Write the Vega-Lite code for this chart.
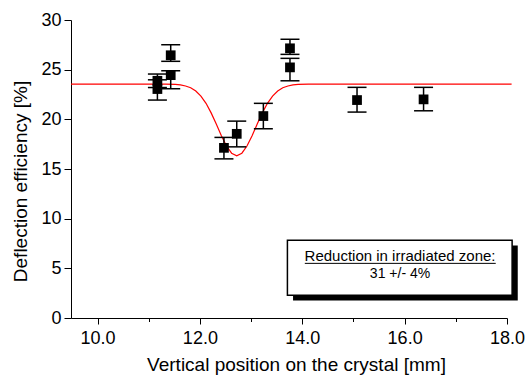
{
  "$schema": "https://vega.github.io/schema/vega-lite/v6.json",
  "width": 436,
  "height": 298,
  "autosize": {"type": "none"},
  "padding": {"left": 71, "top": 20, "right": 22, "bottom": 60},
  "background": "white",
  "config": {
    "view": {"stroke": null},
    "font": "Liberation Sans",
    "axis": {
      "grid": false,
      "domainColor": "black",
      "tickColor": "black",
      "labelColor": "black",
      "titleColor": "black",
      "labelFont": "Liberation Sans",
      "titleFont": "Liberation Sans",
      "titleFontWeight": "normal"
    }
  },
  "datasets": {
    "points": [
      {"x": 11.17, "y": 23.88, "lo": 23.2, "hi": 24.56},
      {"x": 11.17, "y": 23.05, "lo": 21.94, "hi": 23.98},
      {"x": 11.43, "y": 26.45, "lo": 25.84, "hi": 27.51},
      {"x": 11.43, "y": 24.45, "lo": 23.08, "hi": 24.89},
      {"x": 12.47, "y": 17.13, "lo": 16.02, "hi": 18.18},
      {"x": 12.72, "y": 18.54, "lo": 17.23, "hi": 19.82},
      {"x": 13.24, "y": 20.33, "lo": 19.05, "hi": 21.61},
      {"x": 13.76, "y": 27.15, "lo": 26.54, "hi": 28.06},
      {"x": 13.76, "y": 25.23, "lo": 23.88, "hi": 26.14},
      {"x": 15.07, "y": 21.94, "lo": 20.73, "hi": 23.22},
      {"x": 16.37, "y": 22.01, "lo": 20.86, "hi": 23.22}
    ],
    "fit": [
      {"x": 9.482, "y": 23.55},
      {"x": 11.32, "y": 23.54},
      {"x": 11.52, "y": 23.51},
      {"x": 11.62, "y": 23.46},
      {"x": 11.72, "y": 23.36},
      {"x": 11.82, "y": 23.18},
      {"x": 11.92, "y": 22.85},
      {"x": 12.02, "y": 22.34},
      {"x": 12.12, "y": 21.61},
      {"x": 12.22, "y": 20.65},
      {"x": 12.32, "y": 19.52},
      {"x": 12.42, "y": 18.35},
      {"x": 12.52, "y": 17.31},
      {"x": 12.62, "y": 16.59},
      {"x": 12.72, "y": 16.33},
      {"x": 12.82, "y": 16.59},
      {"x": 12.92, "y": 17.31},
      {"x": 13.02, "y": 18.35},
      {"x": 13.12, "y": 19.52},
      {"x": 13.22, "y": 20.65},
      {"x": 13.32, "y": 21.61},
      {"x": 13.42, "y": 22.34},
      {"x": 13.52, "y": 22.85},
      {"x": 13.62, "y": 23.18},
      {"x": 13.72, "y": 23.36},
      {"x": 13.82, "y": 23.46},
      {"x": 13.92, "y": 23.51},
      {"x": 14.12, "y": 23.54},
      {"x": 18.09, "y": 23.55}
    ],
    "box": [
      {"x1": 13.71, "x2": 18.1, "y1": 7.83, "y2": 2.29, "sx1": 13.82, "sx2": 18.21, "sy1": 7.3, "sy2": 1.75, "ux1": 14.05, "ux2": 17.78, "uy": 5.5}
    ],
    "notes": [
      {"x": 15.91, "y": 5.7, "text": "Reduction in irradiated zone:", "size": 15},
      {"x": 15.91, "y": 3.98, "text": "31 +/- 4%", "size": 14}
    ]
  },
  "layer": [
    {
      "data": {"name": "fit"},
      "mark": {"type": "line", "color": "#ff0000", "strokeWidth": 1.2, "clip": false},
      "encoding": {
        "x": {
          "field": "x", "type": "quantitative",
          "scale": {"domain": [9.482, 18], "nice": false, "zero": false},
          "axis": {
            "values": [10, 11, 12, 13, 14, 15, 16, 17, 18],
            "format": ".1f",
            "labelExpr": "datum.value % 2 === 0 ? datum.label : ''",
            "tickSize": {"condition": {"test": "datum.value % 2 === 0", "value": 6}, "value": 3.5},
            "labelFontSize": 18,
            "labelPadding": 5,
            "labelFlush": false,
            "labelOverlap": false,
            "labelBound": false,
            "title": "Vertical position on the crystal [mm]",
            "titleFontSize": 19,
            "titleX": 225,
            "titleY": 52,
            "titleBaseline": "alphabetic",
            "titleAlign": "center"
          }
        },
        "y": {
          "field": "y", "type": "quantitative",
          "scale": {"domain": [0, 30], "nice": false, "zero": true},
          "axis": {
            "values": [0, 2.5, 5, 7.5, 10, 12.5, 15, 17.5, 20, 22.5, 25, 27.5, 30],
            "labelExpr": "datum.value % 5 === 0 ? datum.label : ''",
            "tickSize": {"condition": {"test": "datum.value % 5 === 0", "value": 7}, "value": 3.5},
            "labelFontSize": 18,
            "labelPadding": 3,
            "labelOverlap": false,
            "labelBound": false,
            "labelFlush": false,
            "title": "Deflection efficiency [%]",
            "titleFontSize": 19,
            "titleX": -45,
            "titleY": 161,
            "titleAngle": 270,
            "titleBaseline": "alphabetic",
            "titleAlign": "center"
          }
        }
      }
    },
    {
      "data": {"name": "box"},
      "mark": {"type": "rect", "color": "black", "clip": false},
      "encoding": {
        "x": {"field": "sx1", "type": "quantitative"},
        "x2": {"field": "sx2"},
        "y": {"field": "sy1", "type": "quantitative"},
        "y2": {"field": "sy2"}
      }
    },
    {
      "data": {"name": "box"},
      "mark": {"type": "rect", "fill": "white", "stroke": "black", "strokeWidth": 1.5, "clip": false},
      "encoding": {
        "x": {"field": "x1", "type": "quantitative"},
        "x2": {"field": "x2"},
        "y": {"field": "y1", "type": "quantitative"},
        "y2": {"field": "y2"}
      }
    },
    {
      "data": {"name": "box"},
      "mark": {"type": "rule", "color": "black", "strokeWidth": 1},
      "encoding": {
        "x": {"field": "ux1", "type": "quantitative"},
        "x2": {"field": "ux2"},
        "y": {"field": "uy", "type": "quantitative"}
      }
    },
    {
      "data": {"name": "notes"},
      "mark": {"type": "text", "align": "center", "baseline": "alphabetic", "color": "black", "font": "Liberation Sans"},
      "encoding": {
        "x": {"field": "x", "type": "quantitative"},
        "y": {"field": "y", "type": "quantitative"},
        "text": {"field": "text"},
        "size": {"field": "size", "type": "quantitative", "scale": null, "legend": null}
      }
    },
    {
      "data": {"name": "points"},
      "mark": {"type": "rule", "color": "black", "strokeWidth": 1.5},
      "encoding": {
        "x": {"field": "x", "type": "quantitative"},
        "y": {"field": "lo", "type": "quantitative"},
        "y2": {"field": "hi"}
      }
    },
    {
      "data": {"name": "points"},
      "mark": {"type": "tick", "orient": "horizontal", "color": "black", "size": 19, "thickness": 1.5, "opacity": 1},
      "encoding": {
        "x": {"field": "x", "type": "quantitative"},
        "y": {"field": "lo", "type": "quantitative"}
      }
    },
    {
      "data": {"name": "points"},
      "mark": {"type": "tick", "orient": "horizontal", "color": "black", "size": 19, "thickness": 1.5, "opacity": 1},
      "encoding": {
        "x": {"field": "x", "type": "quantitative"},
        "y": {"field": "hi", "type": "quantitative"}
      }
    },
    {
      "data": {"name": "points"},
      "mark": {"type": "square", "color": "black", "filled": true, "opacity": 1, "size": 95},
      "encoding": {
        "x": {"field": "x", "type": "quantitative"},
        "y": {"field": "y", "type": "quantitative"}
      }
    }
  ]
}
